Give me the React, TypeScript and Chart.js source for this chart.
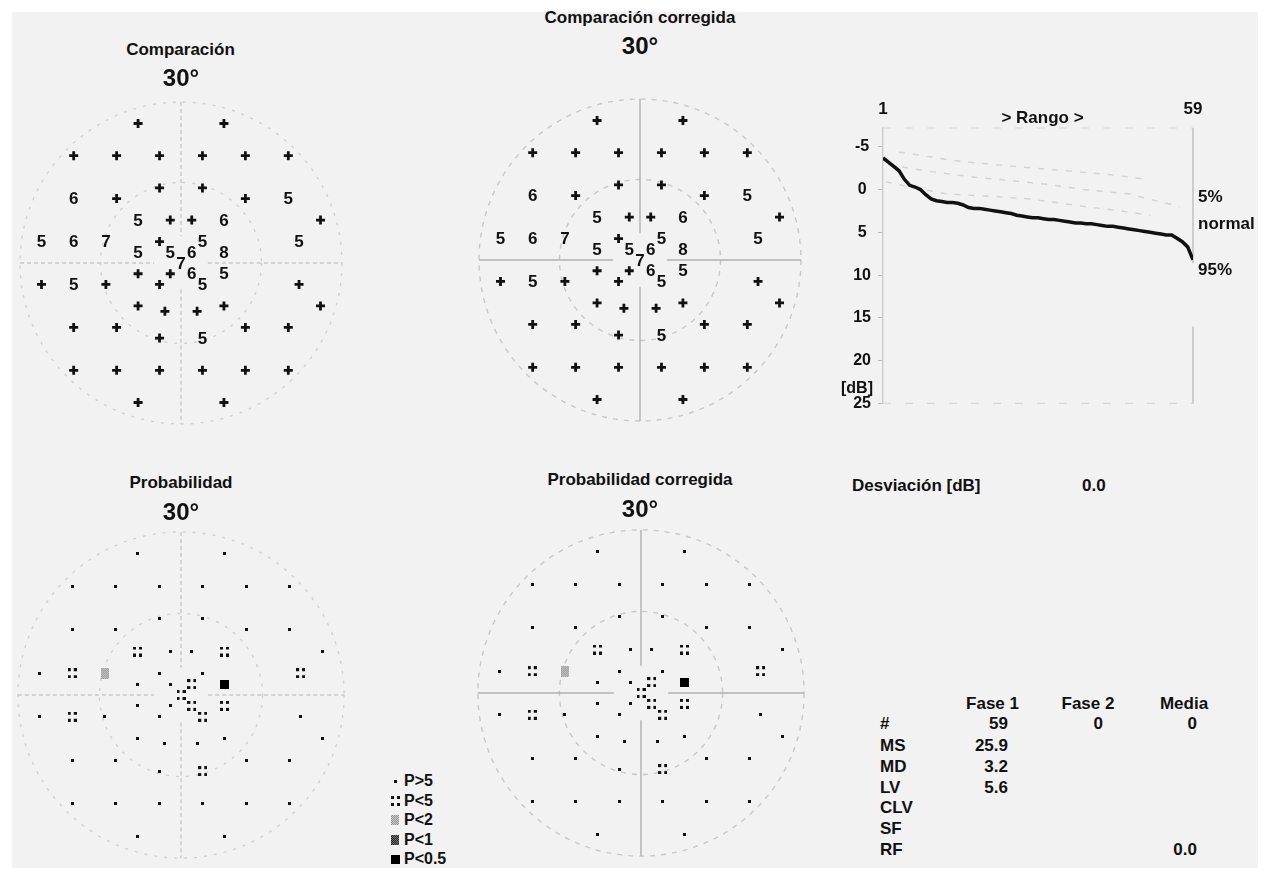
import React, { useEffect, useRef } from 'react';
import { Chart, registerables } from 'chart.js';

Chart.register(...registerables);

const FONT = '"Liberation Sans", Arial, Helvetica, sans-serif';
Chart.defaults.font.family = FONT;
Chart.defaults.color = '#111';

// ---- Visual field test points (degrees) ----
const pointX = [-8, 8, -20, -12, -4, 4, 12, 20, -4, 4, -20, -12, 12, 20, -8, -2, 2, 8, 26, -26, -20, -14, -4, 4, 22, -8, -2, 2, 8, 0, -8, -2, 2, 8, -26, -20, -14, -4, 4, 22, -8, 8, 26, -3, 3, -20, -12, 12, 20, -4, 4, -20, -12, -4, 4, 12, 20, -8, 8];
const pointY = [26, 26, 20, 20, 20, 20, 20, 20, 14, 14, 12, 12, 12, 12, 8, 8, 8, 8, 8, 4, 4, 4, 4, 4, 4, 2, 2, 2, 2, 0, -2, -2, -2, -2, -4, -4, -4, -4, -4, -4, -8, -8, -8, -9, -9, -12, -12, -12, -12, -14, -14, -20, -20, -20, -20, -20, -20, -26, -26];
// Comparison (deviation dB); null = "+" (normal)
const comparacion: (number | null)[] = [null, null, null, null, null, null, null, null, null, null, 6, null, null, 5, 5, null, null, 6, null, 5, 6, 7, null, 5, 5, 5, 5, 6, 8, 7, null, null, 6, 5, null, 5, null, null, 5, null, null, null, null, null, null, null, null, null, null, null, 5, null, null, null, null, null, null, null, null];
// Probability class: 0 P>5, 1 P<5, 2 P<2, 3 P<1, 4 P<0.5
const probabilidad = [0, 0, 0, 0, 0, 0, 0, 0, 0, 0, 0, 0, 0, 0, 1, 0, 0, 1, 0, 0, 1, 2, 0, 0, 1, 0, 0, 1, 4, 1, 0, 0, 1, 1, 0, 1, 0, 0, 1, 0, 0, 0, 0, 0, 0, 0, 0, 0, 0, 0, 1, 0, 0, 0, 0, 0, 0, 0, 0];
const probLabels = ['P>5', 'P<5', 'P<2', 'P<1', 'P<0.5'];

const anillos = [15, 30];
const ejeVertical = [[30, 5], [-5, -30]];
const ejeHorizontal = [[-30, -5], [5, 30]];

// ---- Bebie curve ----
const defecto = [-3.7, -3.2, -2.7, -2.2, -1.2, -0.5, -0.3, 0.0, 0.6, 1.1, 1.3, 1.4, 1.5, 1.5, 1.6, 1.8, 2.1, 2.2, 2.2, 2.3, 2.4, 2.5, 2.6, 2.7, 2.8, 3.0, 3.1, 3.2, 3.3, 3.3, 3.4, 3.5, 3.5, 3.6, 3.7, 3.8, 3.9, 3.9, 4.0, 4.0, 4.1, 4.2, 4.3, 4.3, 4.4, 4.5, 4.6, 4.7, 4.8, 4.9, 5.0, 5.1, 5.2, 5.3, 5.3, 5.7, 6.1, 6.7, 8.2];
const banda5Rango = [4, 9, 13, 18.5, 26, 35, 44.5, 50];
const banda5Db = [-4.4, -3.9, -3.5, -3.1, -2.7, -2.2, -1.7, -1.2];
const normalRango = [2, 10, 19, 32, 38.5, 47, 56.5];
const normalDb = [-2.9, -2.1, -1.4, -0.6, 0, 0.5, 2.0];
const banda95Rango = [1.5, 8.5, 13, 22.5, 28.5, 39, 45.5, 51];
const banda95Db = [-0.9, 0, 0.5, 0.85, 1.1, 2.0, 2.5, 3.0];
const rangoTicks = [1, 59];
const dbTicks = [-5, 0, 5, 10, 15, 20, 25];
const bordeDerecho = [[-7.2, 8.6], [16, 25]];

// ---- Statistics ----
const statRows = ['#', 'MS', 'MD', 'LV', 'CLV', 'SF', 'RF'];
const fase1 = ['59', '25.9', '3.2', '5.6', '', '', ''];
const fase2 = ['0', '', '', '', '', '', ''];
const media = ['0', '', '', '', '', '', '0.0'];

const S = 358;
const R = 32;

function makeSymbol(kind: number): HTMLCanvasElement {
  const c = document.createElement('canvas');
  const g = c.getContext('2d')!;
  if (kind === 0) {
    c.width = 3; c.height = 3;
    g.fillStyle = '#111'; g.fillRect(0, 0, 3, 3);
  } else if (kind === 1) {
    c.width = 9; c.height = 10;
    g.fillStyle = '#111';
    [[0, 0], [6, 0], [0, 7], [6, 7]].forEach(([a, b]) => g.fillRect(a, b, 3, 3));
  } else if (kind === 2 || kind === 3) {
    c.width = 8; c.height = 11;
    for (let i = 0; i < 8; i++) for (let j = 0; j < 11; j++) {
      g.fillStyle = (i + j) % 2 === 0 ? (kind === 2 ? '#8e8e8e' : '#222') : (kind === 2 ? '#d2d2d2' : '#777');
      g.fillRect(i, j, 1, 1);
    }
  } else {
    c.width = 9; c.height = 9;
    g.fillStyle = '#000'; g.fillRect(0, 0, 9, 9);
  }
  return c;
}

function framePlugin(style: any) {
  return {
    id: 'fieldFrame',
    beforeDatasetsDraw(chart: any) {
      const { ctx, scales } = chart;
      const sx = scales.x, sy = scales.y;
      const cx = sx.getPixelForValue(0), cy = sy.getPixelForValue(0);
      const k = sx.getPixelForValue(1) - cx;
      ctx.save();
      ctx.lineWidth = 1.4;
      ctx.strokeStyle = style.ringColor;
      ctx.setLineDash(style.ringDash);
      for (const r of anillos) {
        ctx.beginPath(); ctx.arc(cx, cy, r * k, 0, Math.PI * 2); ctx.stroke();
      }
      ctx.strokeStyle = style.axisColor;
      ctx.setLineDash(style.axisDash);
      for (const [a, b] of ejeVertical) {
        ctx.beginPath(); ctx.moveTo(cx, sy.getPixelForValue(a)); ctx.lineTo(cx, sy.getPixelForValue(b)); ctx.stroke();
      }
      for (const [a, b] of ejeHorizontal) {
        ctx.beginPath(); ctx.moveTo(sx.getPixelForValue(a), cy); ctx.lineTo(sx.getPixelForValue(b), cy); ctx.stroke();
      }
      ctx.restore();
    },
    afterDatasetsDraw(chart: any) {
      chart.data.datasets.forEach((ds: any, di: number) => {
        if (!ds.texts) return;
        const meta = chart.getDatasetMeta(di);
        const { ctx } = chart;
        ctx.save();
        ctx.fillStyle = '#111';
        ctx.font = `bold 17px ${FONT}`;
        ctx.textAlign = 'center';
        ctx.textBaseline = 'middle';
        meta.data.forEach((el: any, j: number) => ctx.fillText(ds.texts[j], el.x, el.y + 1));
        ctx.restore();
      });
    },
  };
}

function Field({ cx, cy, kind, soft }: { cx: number; cy: number; kind: 'comp' | 'prob'; soft: boolean }) {
  const ref = useRef<HTMLCanvasElement>(null);
  useEffect(() => {
    const idx = pointX.map((_, i) => i);
    let datasets: any[];
    if (kind === 'comp') {
      const plus = idx.filter((i) => comparacion[i] === null);
      const nums = idx.filter((i) => comparacion[i] !== null);
      datasets = [
        {
          data: plus.map((i) => ({ x: pointX[i], y: pointY[i] })),
          pointStyle: 'cross', pointRadius: 4.5, pointBorderWidth: 2.8,
          pointBorderColor: '#111', pointBackgroundColor: '#111',
        },
        {
          data: nums.map((i) => ({ x: pointX[i], y: pointY[i] })),
          texts: nums.map((i) => String(comparacion[i])),
          pointRadius: 0,
        },
      ];
    } else {
      datasets = probLabels.map((lab, c) => ({
        label: lab,
        data: idx.filter((i) => probabilidad[i] === c).map((i) => ({ x: pointX[i], y: pointY[i] })),
        pointStyle: makeSymbol(c), pointRadius: 3,
      }));
    }
    const style = soft
      ? { ringColor: '#d0d0d0', ringDash: [3, 7], axisColor: '#c8c8c8', axisDash: [4, 3] }
      : { ringColor: '#c8c8c8', ringDash: [5, 6], axisColor: '#b0b0b0', axisDash: [] };
    const chart = new Chart(ref.current!, {
      type: 'scatter',
      data: { datasets },
      options: {
        responsive: false,
        maintainAspectRatio: false,
        animation: false,
        events: [],
        layout: { padding: 0 },
        plugins: { legend: { display: false }, tooltip: { enabled: false } },
        scales: {
          x: { type: 'linear', min: -R, max: R, display: false },
          y: { type: 'linear', min: -R, max: R, display: false },
        },
      } as any,
      plugins: [framePlugin(style)],
    } as any);
    return () => chart.destroy();
  }, []);
  const left = Math.round(cx - S / 2);
  const top = Math.round(cy - S / 2);
  return <canvas ref={ref} width={S} height={S} style={{ position: 'absolute', left, top, width: S, height: S }} />;
}

const curveFrame = {
  id: 'curveFrame',
  beforeDatasetsDraw(chart: any) {
    const { ctx, chartArea: a, scales } = chart;
    const y = scales.y;
    ctx.save();
    ctx.strokeStyle = '#d6d6d6';
    ctx.lineWidth = 1.2;
    ctx.setLineDash([8, 14]);
    ctx.beginPath(); ctx.moveTo(a.left, a.top); ctx.lineTo(a.right, a.top); ctx.stroke();
    ctx.beginPath(); ctx.moveTo(a.left, a.bottom); ctx.lineTo(a.right, a.bottom); ctx.stroke();
    ctx.setLineDash([]);
    ctx.strokeStyle = '#b4b4b4';
    for (const [p, q] of bordeDerecho) {
      ctx.beginPath(); ctx.moveTo(a.right, y.getPixelForValue(p)); ctx.lineTo(a.right, y.getPixelForValue(q)); ctx.stroke();
    }
    ctx.restore();
  },
};

function Curve() {
  const ref = useRef<HTMLCanvasElement>(null);
  useEffect(() => {
    const band = (r: number[], d: number[]) => ({
      data: r.map((v, i) => ({ x: v, y: d[i] })),
      borderColor: '#d3d3d3', borderWidth: 1.5, borderDash: [6, 8], pointRadius: 0, tension: 0,
    });
    const chart = new Chart(ref.current!, {
      type: 'line',
      data: {
        datasets: [
          { data: defecto.map((v, i) => ({ x: i + 1, y: v })), borderColor: '#111', borderWidth: 3.5, pointRadius: 0, tension: 0 },
          band(banda5Rango, banda5Db),
          band(normalRango, normalDb),
          band(banda95Rango, banda95Db),
        ],
      },
      options: {
        responsive: false,
        maintainAspectRatio: false,
        animation: false,
        events: [],
        layout: { padding: { left: 0, right: 12, top: 0, bottom: 12 } },
        plugins: { legend: { display: false }, tooltip: { enabled: false } },
        scales: {
          x: {
            type: 'linear', position: 'top', min: 1, max: 59,
            afterBuildTicks: (ax: any) => { ax.ticks = rangoTicks.map((v) => ({ value: v })); },
            afterFit: (s: any) => { s.height = 28; },
            ticks: { autoSkip: false, maxRotation: 0, padding: 0, color: '#111', font: { size: 17, weight: 'bold' } },
            grid: { display: false },
            border: { display: false },
          },
          y: {
            type: 'linear', reverse: true, min: -7.2, max: 25,
            afterBuildTicks: (ax: any) => { ax.ticks = dbTicks.map((v) => ({ value: v })); },
            afterFit: (s: any) => { s.width = 53; },
            ticks: { autoSkip: false, crossAlign: 'center', padding: 7, color: '#111', font: { size: 16, weight: 'bold' } },
            grid: { drawOnChartArea: false, drawTicks: true, tickLength: 5, color: '#b8b8b8' },
            border: { display: true, color: '#cccccc', dash: [4, 4], width: 1.4 },
          },
        },
      } as any,
      plugins: [curveFrame],
    } as any);
    return () => chart.destroy();
  }, []);
  return <canvas ref={ref} width={375} height={320} style={{ position: 'absolute', left: 830, top: 100, width: 375, height: 320 }} />;
}

function T({ x, y, children, size = 17, align = 'center' }: any) {
  const tx = align === 'center' ? '-50%' : align === 'right' ? '-100%' : '0';
  return (
    <div style={{ position: 'absolute', left: x, top: y, transform: `translate(${tx},-50%)`, fontSize: size, fontWeight: 'bold', whiteSpace: 'nowrap', lineHeight: 'normal', color: '#111' }}>
      {children}
    </div>
  );
}

function LegendSymbol({ kind, x, y }: { kind: number; x: number; y: number }) {
  const base: any = { position: 'absolute' };
  if (kind === 0) return <div style={{ ...base, left: x - 1.5, top: y - 1.5, width: 3, height: 3, background: '#111' }} />;
  if (kind === 1) {
    return (
      <div style={{ ...base, left: x - 4.5, top: y - 5, width: 9, height: 10 }}>
        {[[0, 0], [6, 0], [0, 7], [6, 7]].map(([a, b], i) => (
          <div key={i} style={{ position: 'absolute', left: a, top: b, width: 3, height: 3, background: '#111' }} />
        ))}
      </div>
    );
  }
  if (kind === 2) return <div style={{ ...base, left: x - 4, top: y - 5, width: 8, height: 10, background: 'repeating-conic-gradient(#8e8e8e 0 25%, #d2d2d2 0 50%) 0 0/2px 2px' }} />;
  if (kind === 3) return <div style={{ ...base, left: x - 4, top: y - 5, width: 8, height: 10, background: 'repeating-conic-gradient(#222 0 25%, #777 0 50%) 0 0/2px 2px' }} />;
  return <div style={{ ...base, left: x - 4.5, top: y - 4.5, width: 9, height: 9, background: '#000' }} />;
}

const legendY = [781, 800.5, 820, 839.5, 859];
const statY = [724, 746, 767, 788, 808, 829, 850];

export default function App() {
  return (
    <div style={{ position: 'absolute', left: 0, top: 0, width: 1266, height: 875, background: '#fff', overflow: 'hidden', fontFamily: FONT }}>
      <div style={{ position: 'absolute', left: 12, top: 12, width: 1246, height: 856, background: '#f2f2f2' }} />

      <Field cx={180.5} cy={262.5} kind="comp" soft={true} />
      <Field cx={639.5} cy={260} kind="comp" soft={false} />
      <Field cx={181} cy={695} kind="prob" soft={true} />
      <Field cx={640.5} cy={693} kind="prob" soft={false} />
      <Curve />

      <T x={180.5} y={50}>Comparación</T>
      <T x={181} y={78} size={24}>30°</T>
      <T x={640} y={18}>Comparación corregida</T>
      <T x={640} y={46} size={24}>30°</T>
      <T x={181} y={483}>Probabilidad</T>
      <T x={181} y={512} size={24}>30°</T>
      <T x={640} y={480}>Probabilidad corregida</T>
      <T x={640} y={509} size={24}>30°</T>

      <T x={1042.5} y={118}>&gt; Rango &gt;</T>
      <T x={857} y={387.5} size={16}>[dB]</T>
      <T x={1198} y={197} align="left">5%</T>
      <T x={1198} y={224} align="left">normal</T>
      <T x={1198} y={270} align="left">95%</T>

      <T x={852} y={486} align="left">Desviación [dB]</T>
      <T x={1082} y={486} align="left">0.0</T>

      <T x={1019} y={704} align="right">Fase 1</T>
      <T x={1088} y={704}>Fase 2</T>
      <T x={1184} y={704}>Media</T>
      {statRows.map((r, i) => (
        <React.Fragment key={r}>
          <T x={880} y={statY[i]} align="left">{r}</T>
          {fase1[i] && <T x={1008} y={statY[i]} align="right">{fase1[i]}</T>}
          {fase2[i] && <T x={1103} y={statY[i]} align="right">{fase2[i]}</T>}
          {media[i] && <T x={1197} y={statY[i]} align="right">{media[i]}</T>}
        </React.Fragment>
      ))}

      {probLabels.map((lab, i) => (
        <React.Fragment key={lab}>
          <LegendSymbol kind={i} x={395} y={legendY[i]} />
          <T x={404} y={legendY[i]} size={16} align="left">{lab}</T>
        </React.Fragment>
      ))}
    </div>
  );
}
